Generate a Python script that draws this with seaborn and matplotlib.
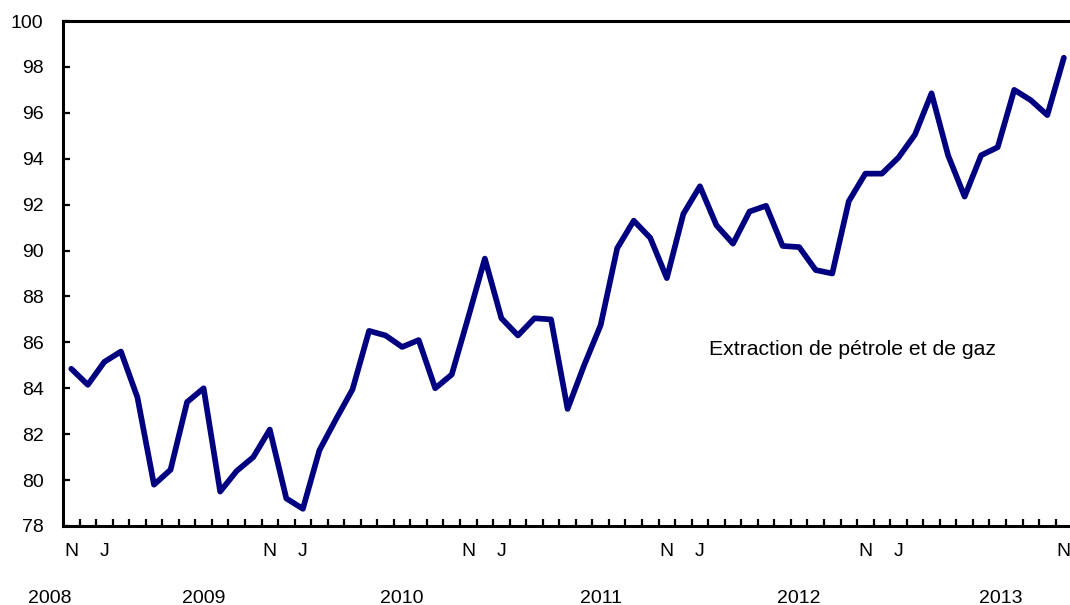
import pandas as pd
import seaborn as sns
import matplotlib.pyplot as plt
import matplotlib.transforms as mtransforms
from matplotlib.ticker import FixedLocator

# monthly index values, Nov 2008 to Nov 2013
months = pd.date_range('2008-11-01', '2013-11-01', freq='MS')
values = [84.85, 84.15, 85.15, 85.6, 83.6, 79.8, 80.45, 83.4, 84.0, 79.5,
          80.4, 81.0, 82.2, 79.2, 78.75, 81.3, 82.65, 83.95, 86.5, 86.3,
          85.8, 86.1, 84.0, 84.6, 87.1, 89.65, 87.05, 86.3, 87.05, 87.0,
          83.1, 85.0, 86.75, 90.1, 91.3, 90.55, 88.8, 91.6, 92.8, 91.1,
          90.3, 91.7, 91.95, 90.2, 90.15, 89.15, 89.0, 92.15, 93.35, 93.35,
          94.05, 95.05, 96.85, 94.15, 92.35, 94.15, 94.5, 97.0, 96.55, 95.9,
          98.4]
series_label = "Extraction de pétrole et de gaz"
year_labels = ['2008', '2009', '2010', '2011', '2012', '2013']
year_pos = [-1.3, 8, 20, 32, 44, 56.2]

df = pd.DataFrame({'month': months, 'value': values})
df['idx'] = range(len(df))
# only November and January get a letter on the axis
df['tick'] = df.month.dt.month.map({11: 'N', 1: 'J'})

sns.set_style("white")
plt.rcParams['font.family'] = ['Liberation Sans', 'DejaVu Sans']
plt.rcParams['text.color'] = 'black'
plt.rcParams['xtick.color'] = 'black'
plt.rcParams['ytick.color'] = 'black'

fig = plt.figure(figsize=(10.7, 6.05), dpi=100)
ax = fig.add_axes([63 / 1070, 1 - 526 / 605, 1 - 63 / 1070 + 0.002, 505 / 605])

sns.lineplot(data=df, x='idx', y='value', color='#000080', linewidth=4.1, ax=ax)

ax.set_xlim(-0.5, 60.5)
ax.set_ylim(78, 100)
ax.set_yticks(range(78, 101, 2))
ax.set_xlabel('')
ax.set_ylabel('')

# letters under the month positions, small ticks between months
ticks = df.dropna(subset=['tick'])
ax.set_xticks(ticks.idx, ticks.tick)
ax.xaxis.set_minor_locator(FixedLocator([i + 0.5 for i in range(60)]))
ax.tick_params(axis='x', which='major', length=0, pad=12, labelsize=14)
ax.tick_params(axis='x', which='minor', direction='in', length=5, width=1.6,
               bottom=True)
ax.tick_params(axis='y', which='major', direction='in', length=5, width=1.6,
               left=True, labelsize=14, pad=14)

for side in ['left', 'bottom', 'top']:
    ax.spines[side].set_color('black')
    ax.spines[side].set_linewidth(2.2)
ax.spines['right'].set_visible(False)

# year labels below the month letters
trans = mtransforms.blended_transform_factory(ax.transData, ax.transAxes)
for lab, pos in zip(year_labels, year_pos):
    ax.text(pos, -0.1426, lab, transform=trans, ha='center', va='center',
            fontsize=14, clip_on=False)

ax.text(47.2, 85.7, series_label, ha='center', va='center', fontsize=15.2)

fig.savefig('out.png', dpi=100)
